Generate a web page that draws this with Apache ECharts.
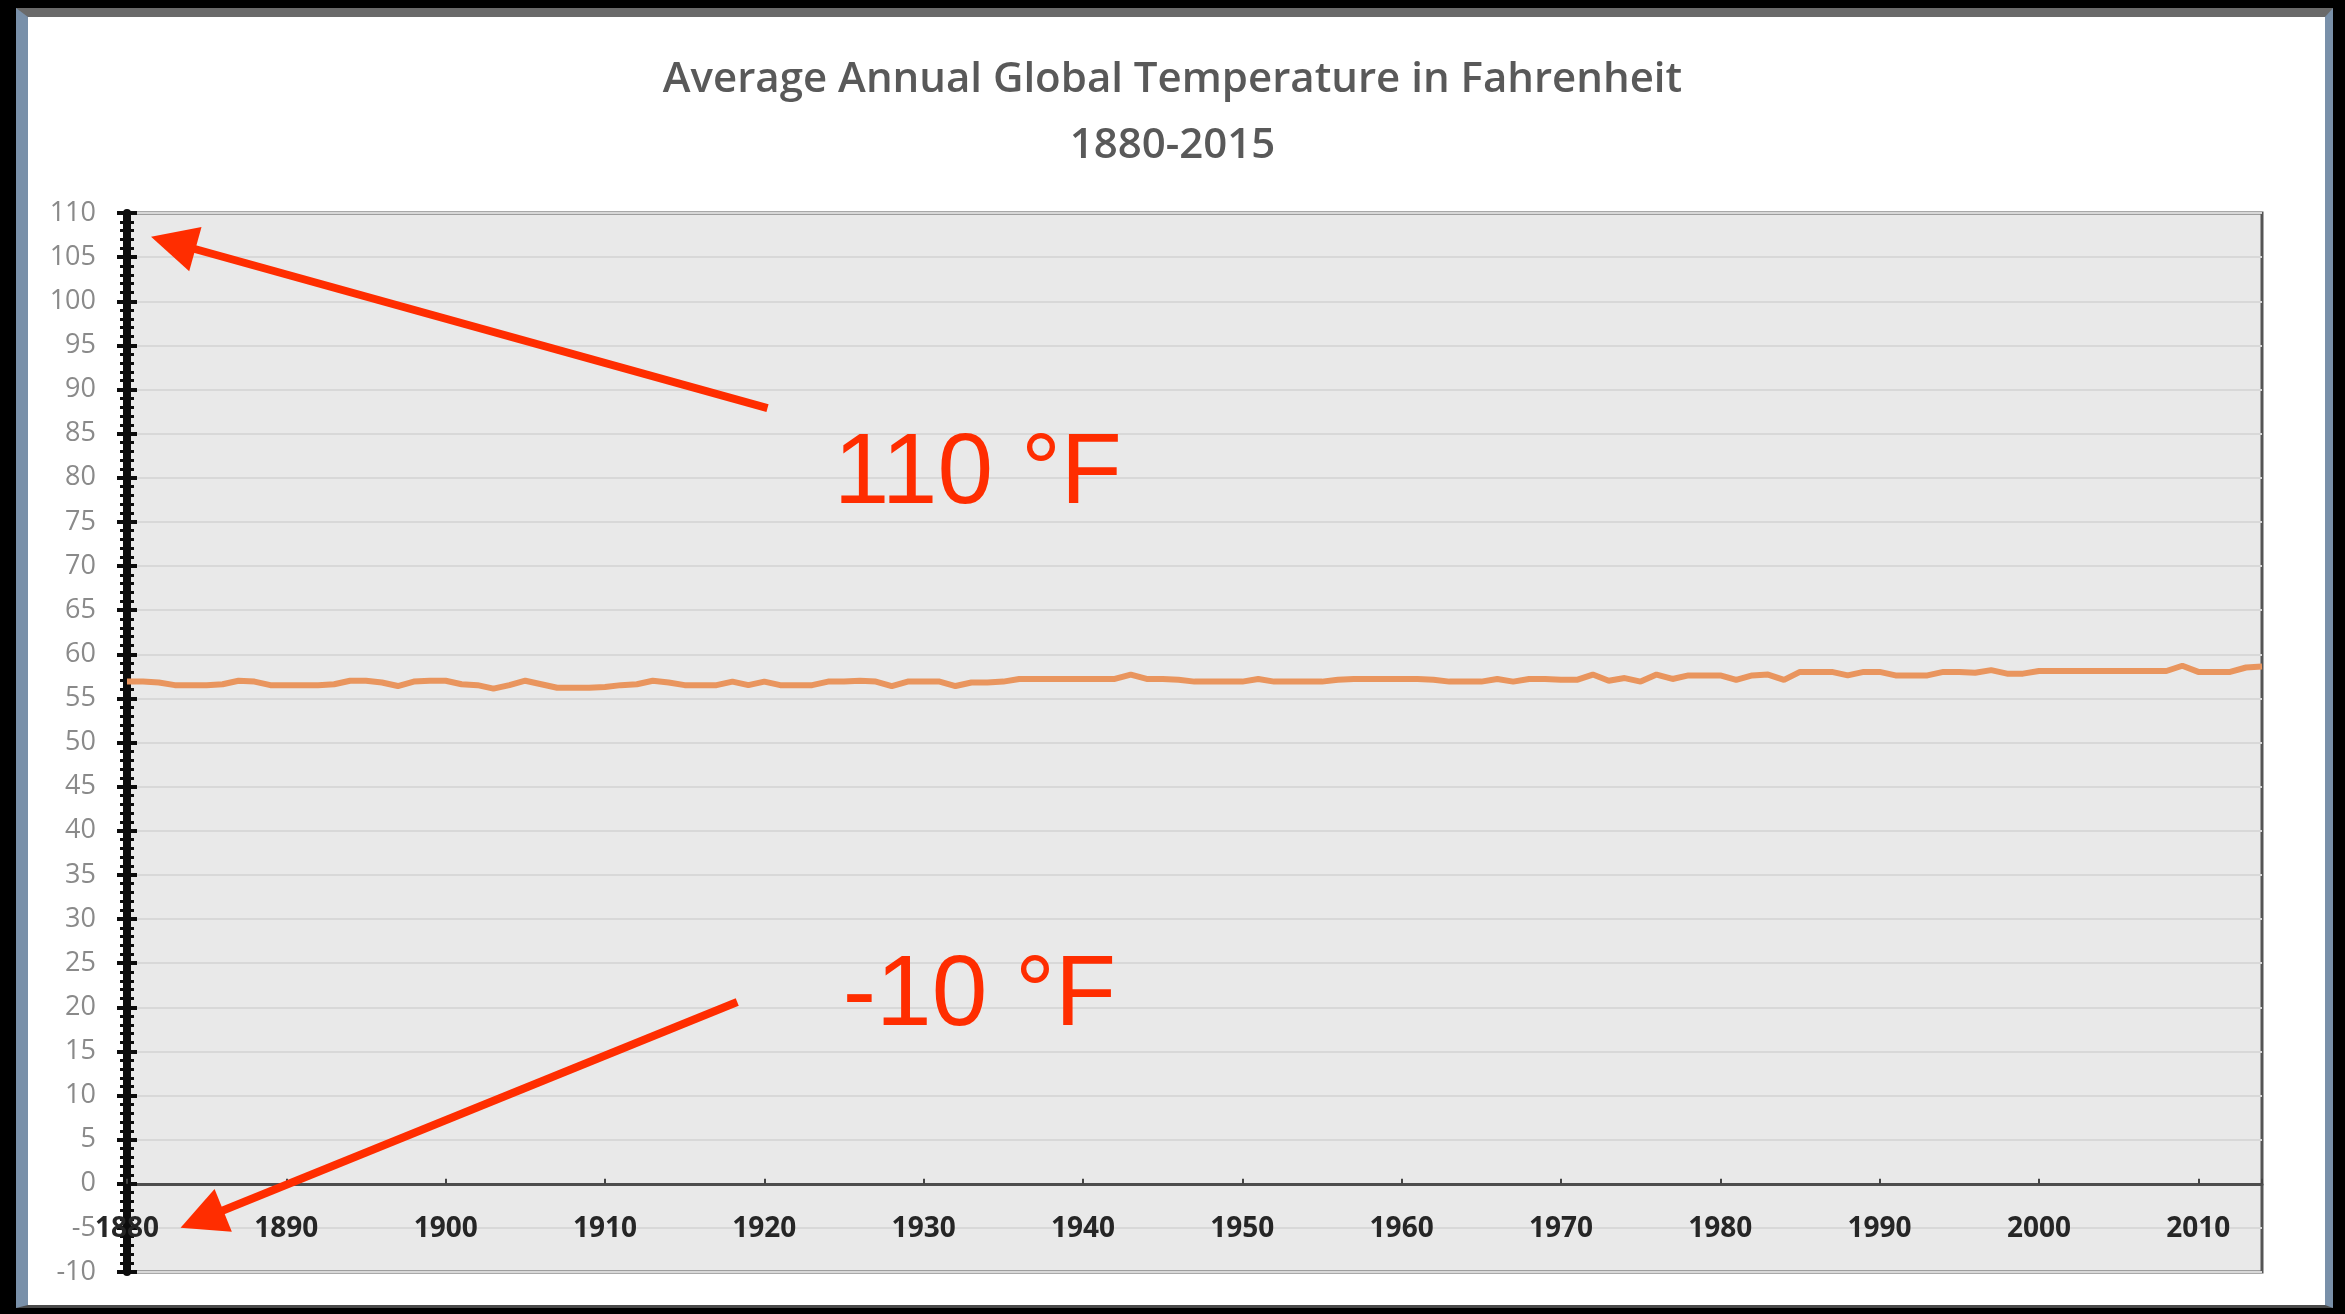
<!DOCTYPE html>
<html>
<head>
<meta charset="utf-8">
<title>Average Annual Global Temperature in Fahrenheit</title>
<script src="https://cdn.jsdelivr.net/npm/echarts@6/dist/echarts.min.js"></script>
<style>
  html, body { margin: 0; padding: 0; background: #000; width: 2345px; height: 1314px; overflow: hidden; }
  #frame {
    position: absolute; left: 16px; top: 8px; width: 2297px; height: 1288px;
    background: #fff;
    border-top: 9px solid #6a6a6a;
    border-left: 12px solid #7990a9;
    border-right: 8px solid #7990a9;
    border-bottom: 3px solid #4a4a4a;
  }
  #chart { position: absolute; left: 0; top: 0; width: 2345px; height: 1314px; }
</style>
</head>
<body>
<div id="frame"></div>
<div id="chart"></div>
<script>
// Chart text
const TITLE = 'Average Annual Global Temperature in Fahrenheit';
const SUBTITLE = '1880-2015';

// Annual mean global temperature (°F), one value per year starting in 1880
const FIRST_YEAR = 1880;
const temps = [
  56.9, 56.9, 56.8, 56.5, 56.5, 56.5, 56.6, 57.0, 56.9, 56.5, // 1880s
  56.5, 56.5, 56.5, 56.6, 57.0, 57.0, 56.8, 56.4, 56.9, 57.0, // 1890s
  57.0, 56.6, 56.5, 56.1, 56.5, 57.0, 56.6, 56.2, 56.2, 56.2, // 1900s
  56.3, 56.5, 56.6, 57.0, 56.8, 56.5, 56.5, 56.5, 56.9, 56.5, // 1910s
  56.9, 56.5, 56.5, 56.5, 56.9, 56.9, 57.0, 56.9, 56.4, 56.9, // 1920s
  56.9, 56.9, 56.4, 56.8, 56.8, 56.9, 57.2, 57.2, 57.2, 57.2, // 1930s
  57.2, 57.2, 57.2, 57.7, 57.2, 57.2, 57.1, 56.9, 56.9, 56.9, // 1940s
  56.9, 57.2, 56.9, 56.9, 56.9, 56.9, 57.1, 57.2, 57.2, 57.2, // 1950s
  57.2, 57.2, 57.1, 56.9, 56.9, 56.9, 57.2, 56.9, 57.2, 57.2, // 1960s
  57.1, 57.1, 57.7, 57.0, 57.3, 56.9, 57.7, 57.2, 57.6, 57.6, // 1970s
  57.6, 57.1, 57.6, 57.7, 57.1, 58.0, 58.0, 58.0, 57.6, 58.0, // 1980s
  58.0, 57.6, 57.6, 57.6, 58.0, 58.0, 57.9, 58.2, 57.8, 57.8, // 1990s
  58.1, 58.1, 58.1, 58.1, 58.1, 58.1, 58.1, 58.1, 58.1, 58.7, // 2000s
  58.0, 58.0, 58.0, 58.5, 58.6                                // 2010s
];
const years = temps.map((_, i) => FIRST_YEAR + i);

// Y axis range and step (°F)
const Y_MIN = -10, Y_MAX = 110, Y_STEP = 5;
const X_STEP = 10;

// Callouts: text and the arrows pointing at the axis extremes, in [year, °F]
const calloutTexts = ['110 °F', '-10 °F'];
const calloutAt = [[1933.4, 80.3], [1933.5, 21.1]];
const arrowFrom = [[1920.2, 87.9], [1918.3, 20.6]];
const arrowTo = [[1882.9, 106.6], [1884.7, -4.0]];

const RED = '#ff2d00';

// Plot box in pixels
const GRID = { left: 127, right: 83, top: 213, bottom: 42 };
const CHART_H = 1314;
const plotH = CHART_H - GRID.top - GRID.bottom;
// The year axis sits on the 0 °F line rather than on the plot's lower edge
const zeroLift = plotH * (0 - Y_MIN) / (Y_MAX - Y_MIN);

const chart = echarts.init(document.getElementById('chart'), null, { renderer: 'canvas' });

const yAxisBase = { type: 'value', min: Y_MIN, max: Y_MAX, interval: Y_STEP, position: 'left' };
const titleStyle = { fontFamily: 'Open Sans', fontWeight: 600, fontSize: 42, color: '#595959' };

chart.setOption({
  animation: false,
  backgroundColor: 'transparent',
  title: [
    { text: TITLE, left: 'center', top: 59, padding: 0, textStyle: titleStyle },
    { text: SUBTITLE, left: 'center', top: 125, padding: 0, textStyle: titleStyle }
  ],
  grid: Object.assign({}, GRID, {
    show: true, backgroundColor: '#e9e9e9', borderColor: '#555', borderWidth: 3
  }),
  xAxis: {
    type: 'value', min: years[0], max: years[years.length - 1], interval: X_STEP,
    position: 'bottom',
    offset: -zeroLift,
    axisLine: { onZero: false, lineStyle: { color: '#4d4d4d', width: 3 } },
    axisTick: { inside: true, length: 5, lineStyle: { color: '#444', width: 2 } },
    axisLabel: {
      formatter: v => (v % X_STEP === 0 ? String(v) : ''),
      fontFamily: 'Open Sans', fontWeight: 700, fontSize: 28, color: '#262626', margin: 31
    },
    splitLine: { show: false }
  },
  yAxis: [
    Object.assign({}, yAxisBase, {
      axisLine: { show: true, onZero: false, lineStyle: { color: '#0d0d0d', width: 8 } },
      axisTick: { show: true, length: 10, lineStyle: { color: '#0d0d0d', width: 4 } },
      minorTick: { show: true, splitNumber: 5, length: 7, lineStyle: { color: '#0d0d0d', width: 3 } },
      axisLabel: { color: '#8a8a8a', fontFamily: 'Open Sans', fontSize: 27, margin: 31 },
      splitLine: { show: true, lineStyle: { color: '#d8d8d8', width: 2 } }
    }),
    Object.assign({}, yAxisBase, {
      axisLine: { show: false, onZero: false },
      axisTick: { show: true, inside: true, length: 10, lineStyle: { color: '#0d0d0d', width: 4 } },
      minorTick: { show: true, splitNumber: 5, length: 7, lineStyle: { color: '#0d0d0d', width: 3 } },
      axisLabel: { show: false },
      splitLine: { show: false }
    })
  ],
  series: [{
    type: 'line',
    data: years.map((y, i) => [y, temps[i]]),
    showSymbol: false,
    symbol: 'none',
    lineStyle: { color: '#e9955e', width: 6 },
    z: 3,
    markLine: {
      silent: true,
      symbol: ['none', 'triangle'],
      symbolSize: 46,
      label: { show: false },
      lineStyle: { type: 'solid', color: RED, width: 8 },
      itemStyle: { color: RED },
      data: arrowFrom.map((from, i) => [{ coord: from }, { coord: arrowTo[i] }])
    },
    markPoint: {
      silent: true,
      symbol: 'circle',
      symbolSize: 0,
      itemStyle: { color: 'transparent' },
      label: {
        show: true, position: 'inside', formatter: '{b}',
        fontFamily: 'Liberation Sans', fontSize: 100, color: RED
      },
      data: calloutTexts.map((t, i) => ({ name: t, coord: calloutAt[i] }))
    }
  }]
});
</script>
</body>
</html>
